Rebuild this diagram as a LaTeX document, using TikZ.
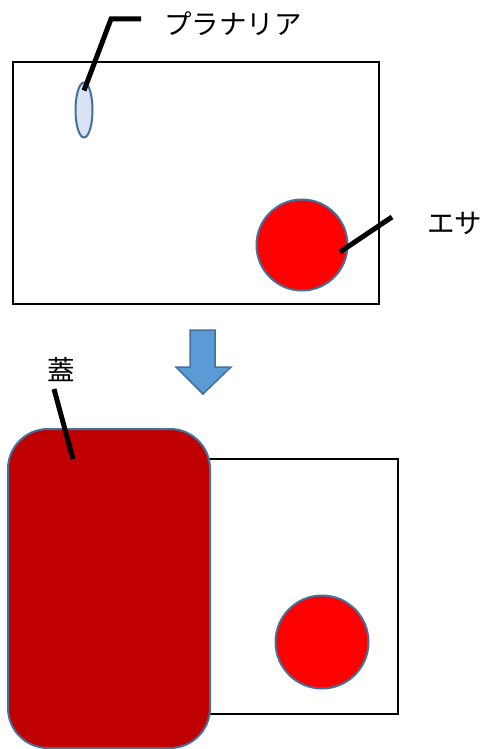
\documentclass[tikz,border=0pt]{standalone}
\usepackage{fontspec}
\newfontfamily\jpfont{Noto Sans CJK JP}
\usetikzlibrary{shapes.geometric}
\definecolor{edgeblue}{HTML}{41719C}
\definecolor{wormblue}{HTML}{DAE3F3}
\definecolor{arrowblue}{HTML}{5B9BD5}
\definecolor{lidred}{HTML}{C00000}
\begin{document}
\begin{tikzpicture}[x=1pt,y=-1pt,
    tank/.style={draw,line width=2.2pt,inner sep=0pt,anchor=north west},
    bait/.style={circle,draw=edgeblue,fill=red,line width=2pt,inner sep=0pt},
    callout/.style={line width=5pt},
    jplabel/.style={font=\jpfont\fontsize{27.5}{31}\selectfont,inner sep=0pt}]
  \useasboundingbox (0,0) rectangle (483,749);

  % before: tank with the worm and the food
  \node[tank,minimum width=366pt,minimum height=242pt] (tank1) at (12,61) {};
  \node[ellipse,draw=edgeblue,fill=wormblue,line width=2pt,inner sep=0pt,
        minimum width=17pt,minimum height=55pt] (planaria) at (84,110) {};
  \node[bait,minimum size=91pt] (bait1) at (302,245) {};

  \node[jplabel,anchor=west] (wormname) at (164,24) {プラナリア};
  \node[jplabel,anchor=west] (foodname) at (427,223) {エサ};
  \coordinate (wormbend) at (111,19);
  \coordinate (wormend) at (141,19);
  \coordinate (foodend) at (392,217);
  \draw[callout] ([yshift=-9pt]planaria.north) -- (wormbend) -- (wormend);
  \draw[callout] ([shift={(38pt,-7pt)}]bait1.center) -- (foodend);

  % arrow
  \draw[draw=edgeblue,fill=arrowblue,line width=1.5pt,line join=miter]
    (190,330) -- (215,330) -- (215,367) -- (231,367) -- (203,394)
    -- (176,367) -- (190,367) -- cycle;

  % after: lid over half the tank
  \node[tank,minimum width=189pt,minimum height=255pt] (tank2) at (208,458) {};
  \node[bait,minimum size=93pt] (bait2) at (322,642) {};
  \node[draw=edgeblue,fill=lidred,line width=2pt,rounded corners=40pt,
        inner sep=0pt,anchor=north west,minimum width=202pt,minimum height=319pt]
    (lid) at (7,428) {};

  \node[jplabel] (lidname) at (61,370) {蓋};
  \coordinate (lidend) at (54,389);
  \draw[callout] ([shift={(66pt,-31pt)}]lid.north west) -- (lidend);
\end{tikzpicture}
\end{document}
